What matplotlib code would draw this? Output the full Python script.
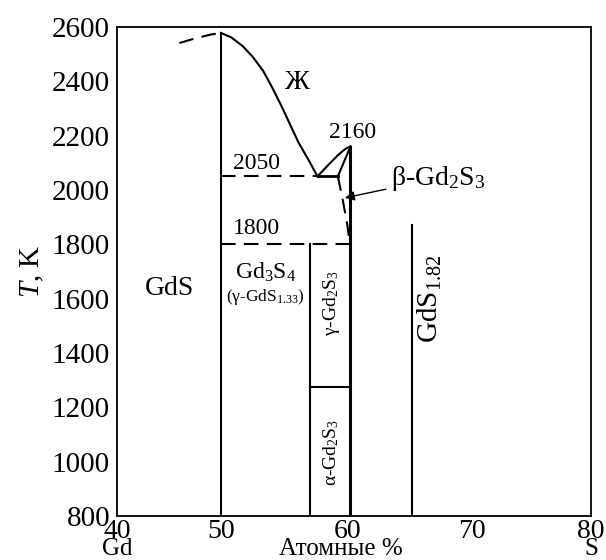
import numpy as np
import matplotlib
matplotlib.use("Agg")
import matplotlib.pyplot as plt

plt.rcParams['font.family'] = ['Liberation Serif', 'DejaVu Serif']
plt.rcParams['mathtext.fontset'] = 'custom'
plt.rcParams['mathtext.rm'] = 'Liberation Serif'
plt.rcParams['mathtext.it'] = 'Liberation Serif:italic'
plt.rcParams['mathtext.default'] = 'regular'

# ось составов (ат. % S) и температур
x_ticks = [40, 50, 60, 70, 80]
T_ticks = [800, 1000, 1200, 1400, 1600, 1800, 2000, 2200, 2400, 2600]
# шкала по X в исходной диаграмме неравномерная
x_scale_pos = [0, 104, 231, 355, 474]

# ликвидус
liq_gd_x = [46.0, 47.5, 49.0, 50.0]
liq_gd_T = [2541, 2558, 2572, 2578]
liq_x = [50.0, 50.8, 51.7, 52.5, 53.3, 54.0, 54.7, 55.4, 56.1, 56.9, 57.6]
liq_T = [2578, 2562, 2530, 2490, 2440, 2380, 2315, 2245, 2175, 2110, 2050]
beta_liq_x = [57.6, 58.4, 59.2, 59.7, 60.0, 60.2]
beta_liq_T = [2050, 2090, 2128, 2148, 2157, 2160]
# солидус и сольвус beta-Gd2S3
beta_sol_x = [59.2, 60.2]
beta_sol_T = [2050, 2160]
beta_solv_x = [59.2, 59.6, 59.95, 60.15]
beta_solv_T = [2050, 1960, 1870, 1800]

x_gds, T_gds_top = 50.0, 2578
x_gd3s4 = 57.0
x_gd2s3, T_gd2s3_top = 60.2, 2160
x_gds182, T_gds182_top = 65.2, 1870
T_eut, x_eut, x_beta_left = 2050, 57.6, 59.2
T_1800 = 1800
T_alpha_gamma = 1275


def fwd(x):
    return np.interp(x, x_ticks, x_scale_pos)


def inv(p):
    return np.interp(p, x_scale_pos, x_ticks)


fig = plt.figure(figsize=(6.06, 5.60), dpi=100)
ax = fig.add_axes([117/606, 1 - 516/560, 474/606, 489/560])
ax.set_xscale('function', functions=(fwd, inv))
ax.set_xlim(40, 80)
ax.set_ylim(800, 2600)

lw = 1.5
dash = (0, (7, 4))
k = 'black'

ax.plot(liq_gd_x, liq_gd_T, color=k, lw=lw, linestyle=dash)
ax.plot(liq_x, liq_T, color=k, lw=lw)
ax.plot(beta_liq_x, beta_liq_T, color=k, lw=lw)
ax.plot(beta_sol_x, beta_sol_T, color=k, lw=lw)
ax.plot(beta_solv_x, beta_solv_T, color=k, lw=lw, linestyle=dash)

# вертикальные линии соединений
ax.plot([x_gds, x_gds], [800, T_gds_top], color=k, lw=lw)
ax.plot([x_gd3s4, x_gd3s4], [800, T_1800], color=k, lw=lw)
ax.plot([x_gd2s3, x_gd2s3], [800, T_gd2s3_top], color=k, lw=2.2)
ax.plot([x_gds182, x_gds182], [800, T_gds182_top], color=k, lw=lw)

# горизонтали
ax.plot([x_gds, x_eut], [T_eut, T_eut], color=k, lw=lw, linestyle=dash)
ax.plot([x_eut, x_beta_left], [T_eut, T_eut], color=k, lw=2)
ax.plot([x_gds, x_gd2s3], [T_1800, T_1800], color=k, lw=lw, linestyle=dash)
ax.plot([x_gd3s4, x_gd2s3], [T_alpha_gamma, T_alpha_gamma], color=k, lw=lw)

# подписи
ax.text(56.0, 2394, 'Ж', fontsize=20, ha='center', va='center')
ax.text(60.4, 2210, str(T_gd2s3_top), fontsize=17, ha='center', va='center')
ax.text(52.8, 2096, str(T_eut), fontsize=17, ha='center', va='center')
ax.text(52.8, 1860, str(T_1800), fontsize=17, ha='center', va='center')
ax.text(45.1, 1636, 'GdS', fontsize=20, ha='center', va='center')
ax.text(53.5, 1698, 'Gd$_3$S$_4$', fontsize=17, ha='center', va='center')
ax.text(53.5, 1606, '(γ-GdS$_{1.33}$)', fontsize=12.5, ha='center', va='center')
ax.text(58.7, 1584, 'γ-Gd$_2$S$_3$', fontsize=14, ha='center', va='center',
        rotation=90)
ax.text(58.7, 1036, 'α-Gd$_2$S$_3$', fontsize=14, ha='center', va='center',
        rotation=90)
ax.text(66.6, 1600, 'GdS$_{1.82}$', fontsize=21, ha='center', va='center',
        rotation=90)
ax.annotate('β-Gd$_2$S$_3$', xy=(59.75, 1971), xytext=(63.5, 2044),
            fontsize=20, ha='left', va='center',
            arrowprops=dict(arrowstyle='-|>', color=k, lw=1.0,
                            shrinkA=2, shrinkB=0, mutation_scale=14))

ax.set_xticks(x_ticks)
ax.set_yticks(T_ticks)
ax.tick_params(length=0, labelsize=21, pad=5)
ax.tick_params(axis='x', labelsize=20, pad=2)
for s in ax.spines.values():
    s.set_linewidth(1.3)

ax.set_ylabel('$\\it{T}$, K', fontsize=21, labelpad=4)

for x, txt in [(40, 'Gd'), (59.4, 'Атомные %'), (80, 'S')]:
    ax.annotate(txt, xy=(x, 0), xycoords=('data', 'axes fraction'),
                xytext=(0, -27.8), textcoords='offset points',
                fontsize=18, ha='center', va='baseline')

fig.savefig('out.png', dpi=100)
